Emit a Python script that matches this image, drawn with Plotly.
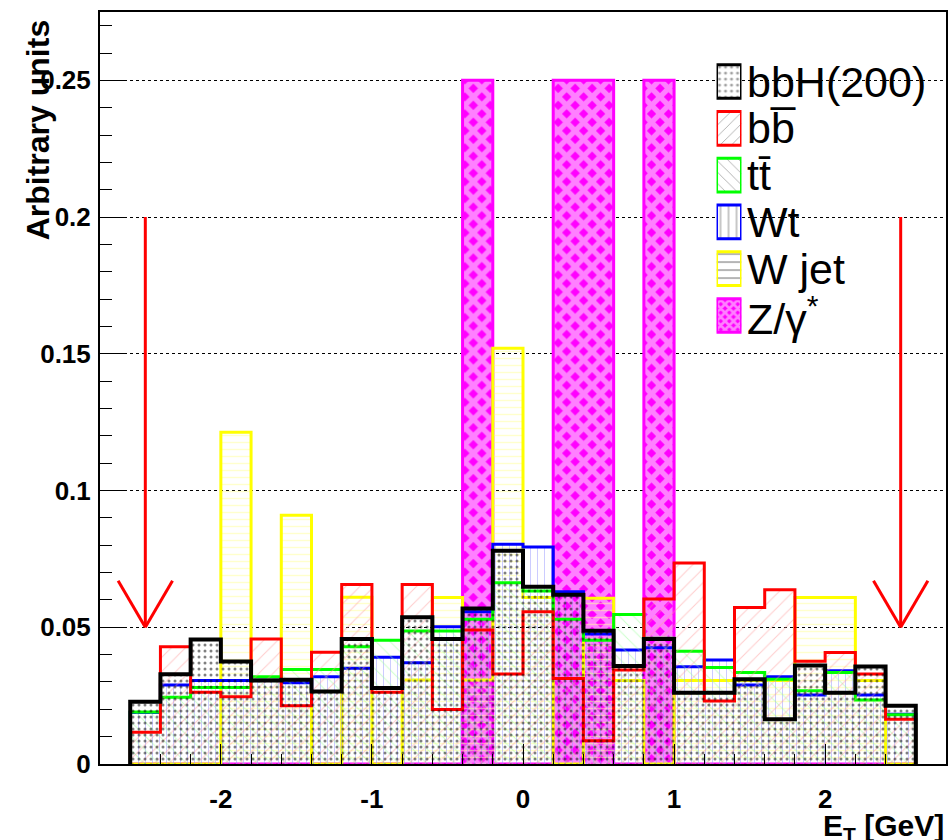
import plotly.graph_objects as go

# ---- data: 26 bins of 0.2 from -2.6 to 2.6 ----
EDGES = [round(-2.6 + 0.2 * i, 2) for i in range(27)]

bbH = [0.0228, 0.0328, 0.0455, 0.0375, 0.0305, 0.0308, 0.0265, 0.0457, 0.0278, 0.0537,
       0.0457, 0.0569, 0.0780, 0.0648, 0.0619, 0.0487, 0.0358, 0.0457, 0.0261, 0.0261,
       0.0310, 0.0164, 0.0360, 0.0261, 0.0357, 0.0213]
bb = [0.0116, 0.0429, 0.0262, 0.0246, 0.0457, 0.0213, 0.0409, 0.0656, 0.0262, 0.0656,
      0.0199, 0.0490, 0.0329, 0.0557, 0.0313, 0.0085, 0.0344, 0.0603, 0.0735, 0.0230,
      0.0572, 0.0637, 0.0376, 0.0408, 0.0329, 0.0164]
tt = [0.0190, 0.0244, 0.0280, 0.0280, 0.0319, 0.0346, 0.0346, 0.0429, 0.0453, 0.0486,
      0.0486, 0.0529, 0.0663, 0.0633, 0.0529, 0.0453, 0.0547, 0.0460, 0.0412, 0.0353,
      0.0335, 0.0310, 0.0268, 0.0335, 0.0234, 0.0180]
Wt = [0.0188, 0.0289, 0.0305, 0.0305, 0.0307, 0.0297, 0.0319, 0.0350, 0.0390, 0.0370,
      0.0502, 0.0557, 0.0804, 0.0794, 0.0630, 0.0475, 0.0417, 0.0425, 0.0356, 0.0380,
      0.0289, 0.0319, 0.0252, 0.0341, 0.0252, 0.0182]
Wjet = [0.0, 0.0, 0.0, 0.1213, 0.0307, 0.0910, 0.0, 0.0610, 0.0, 0.0307,
        0.0609, 0.0307, 0.1520, 0.0609, 0.0, 0.0606, 0.0305, 0.0, 0.0305, 0.0305,
        0.0305, 0.0305, 0.0609, 0.0609, 0.0305, 0.0]
Zgam = [0, 0, 0, 0, 0, 0, 0, 0, 0, 0,
        0, 0.25, 0, 0, 0.25, 0.25, 0, 0.25, 0, 0,
        0, 0, 0, 0, 0, 0]

CUTS = [-2.5, 2.5]
ARROW_TOP = 0.2
ARROW_TIP = 0.05

Y_TICKS = [0, 0.05, 0.1, 0.15, 0.2, 0.25]
X_TICKS = [-2, -1, 0, 1, 2]
X_TICKTEXT = ["-2", "-1", "0", "1", "2"]

LEGEND_NAMES = ["bbH(200)", "bb\u0305", "tt\u0304", "Wt", "W jet", "Z/γ<sup>*</sup>"]

FONT = "Liberation Sans, Arial, sans-serif"
CLEAR = "rgba(0,0,0,0)"


def step_xy(vals):
    xs = [EDGES[0]]
    ys = [0]
    for i, v in enumerate(vals):
        xs.append(EDGES[i])
        ys.append(v)
    xs.append(EDGES[-1])
    ys.append(vals[-1])
    xs.append(EDGES[-1])
    ys.append(0)
    return xs, ys


STYLE = {
    LEGEND_NAMES[0]: dict(vals=bbH, col="#000000", shp=".", fg="#000000", bg=CLEAR, size=6, sol=0.2, w=4),
    LEGEND_NAMES[1]: dict(vals=bb, col="#ff0000", shp="/", fg="#ff9999", bg=CLEAR, size=10, sol=0.1, w=3),
    LEGEND_NAMES[2]: dict(vals=tt, col="#00ff00", shp="\\", fg="#99ff99", bg=CLEAR, size=10, sol=0.1, w=3),
    LEGEND_NAMES[3]: dict(vals=Wt, col="#0000ff", shp="|", fg="#9999ff", bg=CLEAR, size=7, sol=0.15, w=3),
    LEGEND_NAMES[4]: dict(vals=Wjet, col="#ffff00", shp="-", fg="#ffff99", bg=CLEAR, size=7, sol=0.2, w=3),
    LEGEND_NAMES[5]: dict(vals=Zgam, col="#ff00ff", shp="x", fg="white", bg="#ff00ff", size=12, sol=0.7, w=3),
}
DRAW_ORDER = [LEGEND_NAMES[i] for i in (5, 4, 3, 2, 1, 0)]

fig = go.Figure()
for name in DRAW_ORDER:
    s = STYLE[name]
    xs, ys = step_xy(s["vals"])
    fig.add_trace(go.Scatter(
        x=xs, y=ys, mode="lines", line=dict(color=s["col"], width=s["w"], shape="hv"),
        fill="tozeroy", fillcolor=s["bg"],
        fillpattern=dict(shape=s["shp"], fgcolor=s["fg"], bgcolor=s["bg"], size=s["size"], solidity=s["sol"]),
        showlegend=False, hoverinfo="skip", name=name))

# legend swatches (ROOT-style boxes) on a small inset axis
sw_bg = [STYLE[n]["bg"] if STYLE[n]["bg"] != CLEAR else "white" for n in LEGEND_NAMES]
fig.add_trace(go.Bar(
    y=LEGEND_NAMES, x=[1] * len(LEGEND_NAMES), orientation="h", width=0.72,
    xaxis="x2", yaxis="y2", showlegend=False, hoverinfo="skip", cliponaxis=False,
    marker=dict(color=sw_bg, line=dict(color=[STYLE[n]["col"] for n in LEGEND_NAMES], width=3),
                pattern=dict(shape=[STYLE[n]["shp"] for n in LEGEND_NAMES],
                             fgcolor=[STYLE[n]["fg"] for n in LEGEND_NAMES],
                             bgcolor=sw_bg, size=[6 if STYLE[n]["shp"] in "x." else 8 for n in LEGEND_NAMES],
                             solidity=[STYLE[n]["sol"] for n in LEGEND_NAMES]))))

# legend text
ROW_TOP = 81.5
ROW_STEP = 46.8
PLOT_TOP, PLOT_BOTTOM, PLOT_LEFT, PLOT_RIGHT = 12, 764, 100, 948
annotations = []
for i, n in enumerate(LEGEND_NAMES):
    ypix = ROW_TOP + i * ROW_STEP
    annotations.append(dict(text=n, xref="paper", yref="paper",
                            x=(747 - PLOT_LEFT) / (PLOT_RIGHT - PLOT_LEFT),
                            y=(PLOT_BOTTOM - ypix) / (PLOT_BOTTOM - PLOT_TOP),
                            xanchor="left", yanchor="middle", showarrow=False,
                            font=dict(size=43, family=FONT)))

annotations += [
    dict(text="<b>Arbitrary units</b>", textangle=-90, xref="paper", yref="paper",
         x=-0.073, y=0.843, xanchor="center", yanchor="middle", showarrow=False,
         font=dict(size=32, family=FONT)),
    dict(text="<b>E<sub>T</sub> [GeV]</b>", xref="paper", yref="paper",
         x=1.0, y=-0.057, xanchor="right", yanchor="top", showarrow=False,
         font=dict(size=30, family=FONT)),
]

shapes = []
for c in CUTS:
    shapes.append(dict(type="line", xref="x", yref="y", x0=c, x1=c, y0=ARROW_TOP, y1=ARROW_TIP,
                       line=dict(color="red", width=3)))
    for sgn in (-1, 1):
        shapes.append(dict(type="line", xref="x", yref="y", x0=c + sgn * 0.18, x1=c,
                           y0=ARROW_TIP + 0.017, y1=ARROW_TIP, line=dict(color="red", width=3)))

row_half = ROW_STEP / 2
fig.update_layout(
    width=951, height=840,
    margin=dict(l=PLOT_LEFT, r=951 - PLOT_RIGHT, t=PLOT_TOP, b=840 - PLOT_BOTTOM),
    paper_bgcolor="white", plot_bgcolor="white",
    font=dict(family=FONT, color="black"),
    shapes=shapes, annotations=annotations,
    showlegend=False,
    xaxis2=dict(domain=[(718 - PLOT_LEFT) / 848, (743 - PLOT_LEFT) / 848], range=[0, 1],
                anchor="y2", visible=False, fixedrange=True),
    yaxis2=dict(domain=[(PLOT_BOTTOM - (ROW_TOP + 5 * ROW_STEP + row_half)) / 752,
                        (PLOT_BOTTOM - (ROW_TOP - row_half)) / 752],
                anchor="x2", visible=False, autorange="reversed", type="category", fixedrange=True),
    xaxis=dict(range=[-2.8, 2.8], tickvals=X_TICKS, ticktext=X_TICKTEXT,
               ticks="inside", ticklen=20, tickwidth=1, tickcolor="black",
               minor=dict(dtick=0.2, ticks="inside", ticklen=10, tickcolor="black", showgrid=False),
               showline=True, linecolor="black", linewidth=2, mirror=True,
               showgrid=False, zeroline=False, ticklabelstandoff=11,
               tickfont=dict(size=26, family=FONT, weight="bold")),
    yaxis=dict(range=[0, 0.275], tickvals=Y_TICKS,
               ticks="inside", ticklen=25, tickwidth=1, tickcolor="black",
               minor=dict(dtick=0.01, ticks="inside", ticklen=12, tickcolor="black", showgrid=False),
               showline=True, linecolor="black", linewidth=2, mirror=True,
               showgrid=True, gridcolor="black", gridwidth=1, griddash="dot",
               zeroline=False, ticklabelstandoff=2,
               tickfont=dict(size=26, family=FONT, weight="bold")),
)

fig.write_html("out.html", config={"displayModeBar": False})

# remove default page margin so the figure sits at the window's top-left corner
with open("out.html", "r", encoding="utf-8") as f:
    html = f.read()
html = html.replace("<head>", "<head><style>html,body{margin:0;padding:0;}</style>", 1)
with open("out.html", "w", encoding="utf-8") as f:
    f.write(html)
